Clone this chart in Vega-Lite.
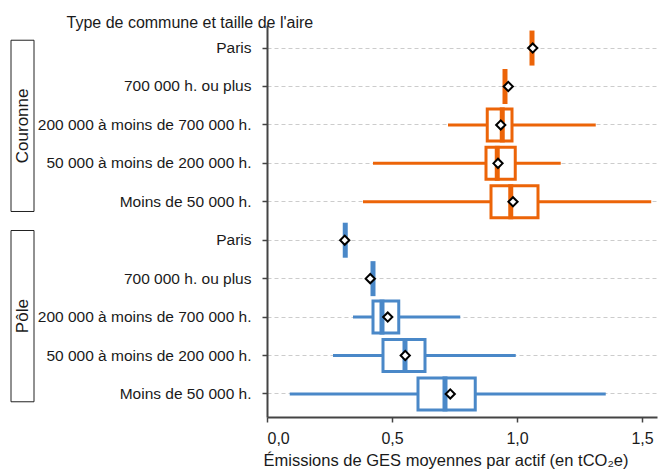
{
  "$schema": "https://vega.github.io/schema/vega-lite/v6.json",
  "padding": {"left": 10, "top": 14, "right": 2, "bottom": 0},
  "autosize": {"type": "pad"},
  "bounds": "flush",
  "spacing": 233,
  "config": {
    "font": "Liberation Sans",
    "view": {"stroke": null},
    "axis": {"labelColor": "#1a1a1a", "titleColor": "#1a1a1a", "titleFontWeight": "normal"}
  },
  "datasets": {
    "stats": [
      {"ligne": "Couronne|Paris", "groupe": "Couronne", "min": 1.06, "q1": 1.06, "mediane": 1.06, "q3": 1.06, "max": 1.06, "moyenne": 1.063},
      {"ligne": "Couronne|700 000 h. ou plus", "groupe": "Couronne", "min": 0.952, "q1": 0.952, "mediane": 0.952, "q3": 0.952, "max": 0.952, "moyenne": 0.965},
      {"ligne": "Couronne|200 000 à moins de 700 000 h.", "groupe": "Couronne", "min": 0.724, "q1": 0.881, "mediane": 0.941, "q3": 0.98, "max": 1.315, "moyenne": 0.935},
      {"ligne": "Couronne|50 000 à moins de 200 000 h.", "groupe": "Couronne", "min": 0.424, "q1": 0.876, "mediane": 0.921, "q3": 0.993, "max": 1.175, "moyenne": 0.924},
      {"ligne": "Couronne|Moins de 50 000 h.", "groupe": "Couronne", "min": 0.384, "q1": 0.896, "mediane": 0.975, "q3": 1.084, "max": 1.537, "moyenne": 0.984},
      {"ligne": "Pôle|Paris", "groupe": "Pôle", "min": 0.313, "q1": 0.313, "mediane": 0.313, "q3": 0.313, "max": 0.313, "moyenne": 0.311},
      {"ligne": "Pôle|700 000 h. ou plus", "groupe": "Pôle", "min": 0.424, "q1": 0.424, "mediane": 0.424, "q3": 0.424, "max": 0.424, "moyenne": 0.413},
      {"ligne": "Pôle|200 000 à moins de 700 000 h.", "groupe": "Pôle", "min": 0.344, "q1": 0.424, "mediane": 0.46, "q3": 0.527, "max": 0.773, "moyenne": 0.483},
      {"ligne": "Pôle|50 000 à moins de 200 000 h.", "groupe": "Pôle", "min": 0.264, "q1": 0.464, "mediane": 0.552, "q3": 0.632, "max": 0.995, "moyenne": 0.553},
      {"ligne": "Pôle|Moins de 50 000 h.", "groupe": "Pôle", "min": 0.091, "q1": 0.604, "mediane": 0.712, "q3": 0.833, "max": 1.355, "moyenne": 0.733}
    ],
    "groupes": [
      {"groupe": "Couronne"},
      {"groupe": "Pôle"}
    ]
  },
  "resolve": {"scale": {"y": "independent", "x": "independent"}},
  "hconcat": [
    {
      "width": 23,
      "height": 392,
      "data": {"name": "groupes"},
      "encoding": {
        "y": {"field": "groupe", "type": "nominal", "sort": null, "axis": null,
              "scale": {"paddingInner": 0.1, "paddingOuter": 0.08}}
      },
      "layer": [
        {"mark": {"type": "bar", "fill": "white", "stroke": "#222222", "strokeWidth": 1}},
        {"mark": {"type": "text", "angle": 270, "fontSize": 17, "color": "#1a1a1a", "align": "center", "baseline": "middle"},
         "encoding": {"text": {"field": "groupe"}}}
      ]
    },
    {
      "width": 390,
      "height": 392,
      "data": {"name": "stats"},
      "encoding": {
        "y": {
          "field": "ligne", "type": "nominal", "sort": null,
          "scale": {"paddingInner": 0, "paddingOuter": 0.1},
          "axis": {
            "title": "Type de commune et taille de l'aire",
            "titleAngle": 0, "titleAlign": "left", "titleBaseline": "alphabetic",
            "titleX": -201, "titleY": 2, "titleFontSize": 16,
            "labelExpr": "split(datum.value, '|')[1]",
            "labelFontSize": 15.5, "labelPadding": 11, "labelLimit": 400,
            "bandPosition": 0.5,
            "tickSize": 5, "tickColor": "#444444", "tickWidth": 1.5,
            "domainColor": "#444444", "domainWidth": 2,
            "grid": true, "gridDash": [4, 3], "gridColor": "#cccccc", "gridWidth": 1
          }
        }
      },
      "layer": [
        {
          "mark": {"type": "rule", "strokeWidth": 3},
          "encoding": {
            "x": {"field": "min", "type": "quantitative",
                  "scale": {"domain": [0, 1.56], "nice": false, "zero": false},
                  "axis": {
                    "values": [0, 0.5, 1, 1.5],
                    "labelExpr": "replace(format(datum.value, '.1f'), '.', ',')",
                    "labelFontSize": 16, "labelPadding": 8,
                    "grid": false,
                    "tickSize": 5, "tickColor": "#444444", "tickWidth": 1.5,
                    "domainColor": "#444444", "domainWidth": 2,
                    "title": "Émissions de GES moyennes par actif (en tCO₂e)",
                    "titleFontSize": 16.5, "titlePadding": 6,
                    "titleAnchor": "start", "titleAlign": "left", "titleX": -4
                  }},
            "x2": {"field": "max"},
            "color": {"field": "groupe", "type": "nominal",
                      "scale": {"domain": ["Couronne", "Pôle"], "range": ["#EC6408", "#4A88C8"]},
                      "legend": null}
          }
        },
        {
          "mark": {"type": "bar", "size": 32, "fill": "white", "strokeWidth": 3},
          "encoding": {
            "x": {"field": "q1", "type": "quantitative"},
            "x2": {"field": "q3"},
            "stroke": {"field": "groupe", "type": "nominal",
                       "scale": {"domain": ["Couronne", "Pôle"], "range": ["#EC6408", "#4A88C8"]},
                       "legend": null}
          }
        },
        {
          "mark": {"type": "tick", "size": 35, "thickness": 5, "opacity": 1},
          "encoding": {
            "x": {"field": "mediane", "type": "quantitative"},
            "color": {"field": "groupe", "type": "nominal",
                      "scale": {"domain": ["Couronne", "Pôle"], "range": ["#EC6408", "#4A88C8"]},
                      "legend": null}
          }
        },
        {
          "mark": {"type": "point", "shape": "diamond", "size": 85, "filled": true, "fill": "white", "stroke": "black", "strokeWidth": 2, "opacity": 1},
          "encoding": {
            "x": {"field": "moyenne", "type": "quantitative"}
          }
        }
      ]
    }
  ]
}
